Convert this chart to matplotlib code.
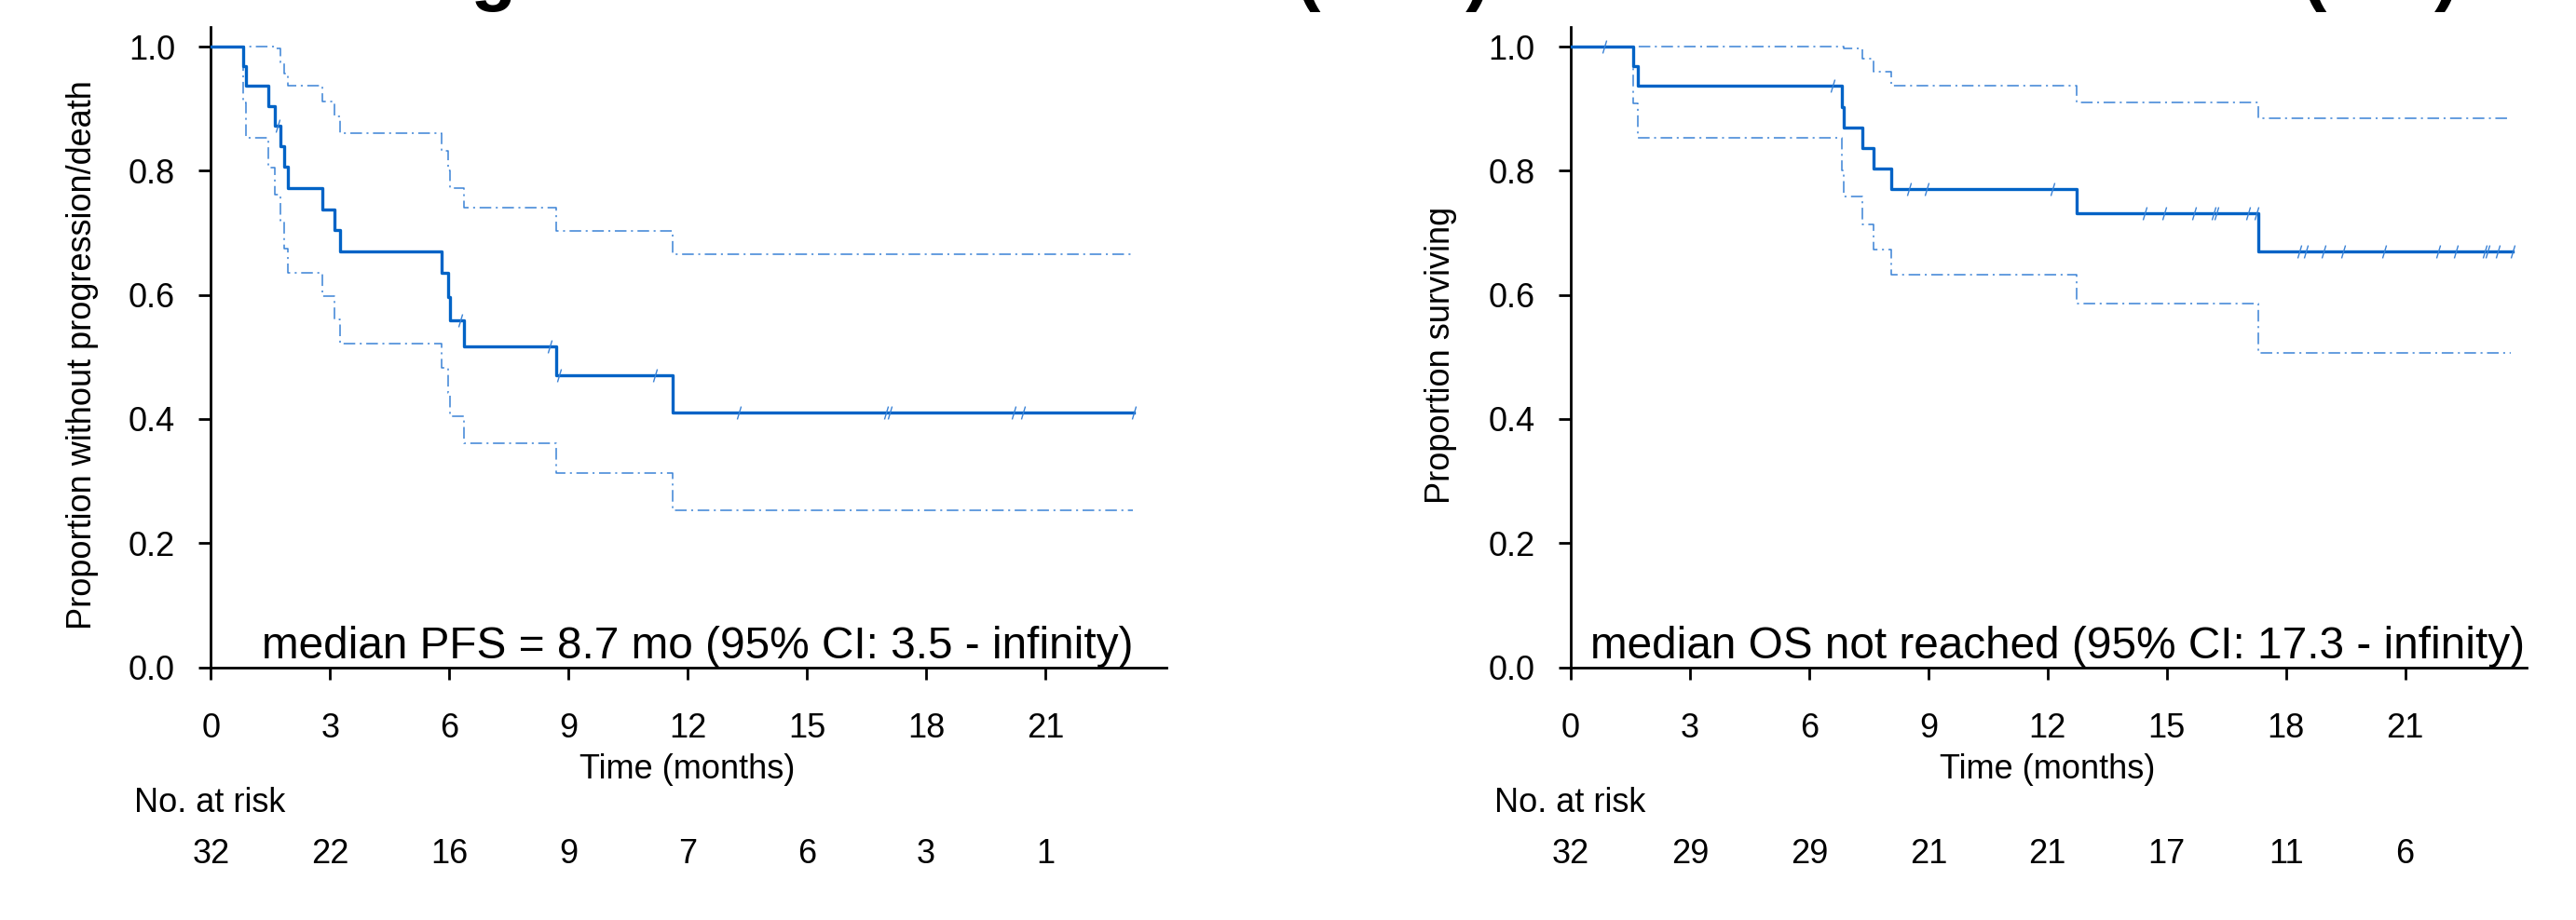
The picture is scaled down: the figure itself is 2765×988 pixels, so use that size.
import matplotlib
matplotlib.use("Agg")
import matplotlib.pyplot as plt
from matplotlib.path import Path
from matplotlib.transforms import blended_transform_factory

plt.rcParams['font.family'] = ['Liberation Sans', 'DejaVu Sans']
plt.rcParams['lines.scale_dashes'] = False

# ---- PFS (left panel) ----
pfs_t = [0.82, 0.89, 1.45, 1.62, 1.74, 1.84, 1.94, 2.80, 3.12, 3.25, 5.81, 5.97, 6.03, 6.36, 8.70, 11.63]
pfs_s = [0.969, 0.937, 0.904, 0.872, 0.840, 0.806, 0.772, 0.738, 0.705, 0.670, 0.635, 0.596, 0.559, 0.517, 0.470, 0.411]
pfs_up = [1.0, 1.0, 1.0, 0.997, 0.975, 0.957, 0.937, 0.912, 0.887, 0.861, 0.832, 0.800, 0.772, 0.741, 0.703, 0.665]
pfs_lo = [0.910, 0.853, 0.805, 0.761, 0.720, 0.675, 0.635, 0.598, 0.560, 0.521, 0.482, 0.442, 0.405, 0.361, 0.313, 0.253]
pfs_end = 23.24
pfs_ci_end = 23.2
pfs_cens_t = [1.68, 6.27, 8.52, 8.77, 11.17, 13.29, 16.99, 17.08, 20.20, 20.44, 23.24]
pfs_cens_s = [0.872, 0.559, 0.517, 0.470, 0.470, 0.411, 0.411, 0.411, 0.411, 0.411, 0.411]
pfs_risk = [32, 22, 16, 9, 7, 6, 3, 1]

# ---- OS (right panel) ----
os_t = [1.58, 1.69, 6.82, 6.87, 7.34, 7.63, 8.07, 12.74, 17.31]
os_s = [0.969, 0.937, 0.903, 0.870, 0.837, 0.803, 0.770, 0.731, 0.670]
os_up = [1.0, 1.0, 1.0, 0.997, 0.980, 0.959, 0.937, 0.910, 0.885]
os_lo = [0.909, 0.853, 0.801, 0.758, 0.714, 0.673, 0.633, 0.586, 0.507]
os_end = 23.70
os_ci_end = 23.65
os_cens_t = [0.84, 6.59, 8.51, 8.96, 12.13, 14.45, 14.94, 15.69, 16.17, 16.24, 17.05, 17.25,
             18.34, 18.50, 18.94, 19.43, 20.47, 21.84, 22.28, 22.99, 23.06, 23.33, 23.70]
os_cens_s = [1.0, 0.937, 0.770, 0.770, 0.770, 0.731, 0.731, 0.731, 0.731, 0.731, 0.731, 0.731,
             0.670, 0.670, 0.670, 0.670, 0.670, 0.670, 0.670, 0.670, 0.670, 0.670, 0.670]
os_risk = [32, 29, 29, 21, 21, 17, 11, 6]

risk_times = [0, 3, 6, 9, 12, 15, 18, 21]
titles = ['Progression-Free Survival (PFS)', 'Overall Survival (OS)']
ylabels = ['Proportion without progression/death', 'Proportion surviving']
notes = ['median PFS = 8.7 mo (95% CI: 3.5 - infinity)',
         'median OS not reached (95% CI: 17.3 - infinity)']

blue = '#0063c6'
ci_blue = '#3a82d6'
dashdot = (0, (9, 3.5, 1.5, 3.5))
censor_mark = Path([(-0.3, -1), (0.3, 1)], [Path.MOVETO, Path.LINETO])

W, H = 2765, 988
fig = plt.figure(figsize=(W / 100, H / 100), dpi=100)

panels = [
    dict(t=pfs_t, s=pfs_s, up=pfs_up, lo=pfs_lo, end=pfs_end, ci_end=pfs_ci_end,
         ct=pfs_cens_t, cs=pfs_cens_s, risk=pfs_risk, x0=226.3, ylab_x=89, title_r=1600),
    dict(t=os_t, s=os_s, up=os_up, lo=os_lo, end=os_end, ci_end=os_ci_end,
         ct=os_cens_t, cs=os_cens_s, risk=os_risk, x0=1686.0, ylab_x=1547, title_r=2640),
]

px_per_month = 42.65
y0_px, ytop_px = 716.5, 29.5
xmax = 24.05
ymax = 1.031

for i, p in enumerate(panels):
    ax = fig.add_axes([p['x0'] / W, 1 - y0_px / H, xmax * px_per_month / W, (y0_px - ytop_px) / H])

    # step curves: start at 1.0, hold last value to the end
    xs = [0] + p['t'] + [p['end']]
    ax.step(xs, [1.0] + p['s'] + [p['s'][-1]], where='post', color=blue, lw=2.4, zorder=3)
    xc = [0] + p['t'] + [p['ci_end']]
    ax.step(xc, [1.0] + p['up'] + [p['up'][-1]], where='post', color=ci_blue, lw=1.1, ls=dashdot)
    ax.step(xc, [1.0] + p['lo'] + [p['lo'][-1]], where='post', color=ci_blue, lw=1.1, ls=dashdot)
    ax.plot(p['ct'], p['cs'], ls='none', marker=censor_mark, markersize=10,
            markeredgewidth=1.0, color=ci_blue, zorder=4)

    ax.set_xlim(0, xmax)
    ax.set_ylim(0, ymax)
    ax.set_xticks(risk_times)
    ax.set_yticks([0, 0.2, 0.4, 0.6, 0.8, 1.0])
    ax.set_yticklabels(['0.0', '0.2', '0.4', '0.6', '0.8', '1.0'])
    for side in ['top', 'right']:
        ax.spines[side].set_visible(False)
    for side in ['left', 'bottom']:
        ax.spines[side].set_linewidth(2.0)
    ax.tick_params(axis='both', direction='out', length=9.6, width=2.0, labelsize=26)
    ax.tick_params(axis='x', pad=25)
    ax.tick_params(axis='y', pad=18)

    ax.text(12.25, 0.015, notes[i], ha='center', va='baseline', fontsize=34.4)

    # labels below the axes, placed in figure rows
    tr = blended_transform_factory(ax.transData, fig.transFigure)
    ax.text(12.0, 1 - 826 / H, 'Time (months)', transform=tr, ha='center', va='center', fontsize=26)
    ax.text(-1.92, 1 - 862 / H, 'No. at risk', transform=tr, ha='left', va='center', fontsize=26)
    for tt, n in zip(risk_times, p['risk']):
        ax.text(tt, 1 - 917 / H, str(n), transform=tr, ha='center', va='center', fontsize=26)

    fig.text(p['ylab_x'] / W, 1 - 381 / H, ylabels[i], rotation=90, ha='center', va='center', fontsize=26)
    # title sits mostly above the canvas (cut off in the original)
    fig.text(p['title_r'] / W, 1 + 4 / H, titles[i], ha='right', va='baseline',
             fontsize=57.6, fontweight='bold')

fig.savefig('out.png', dpi=100)
